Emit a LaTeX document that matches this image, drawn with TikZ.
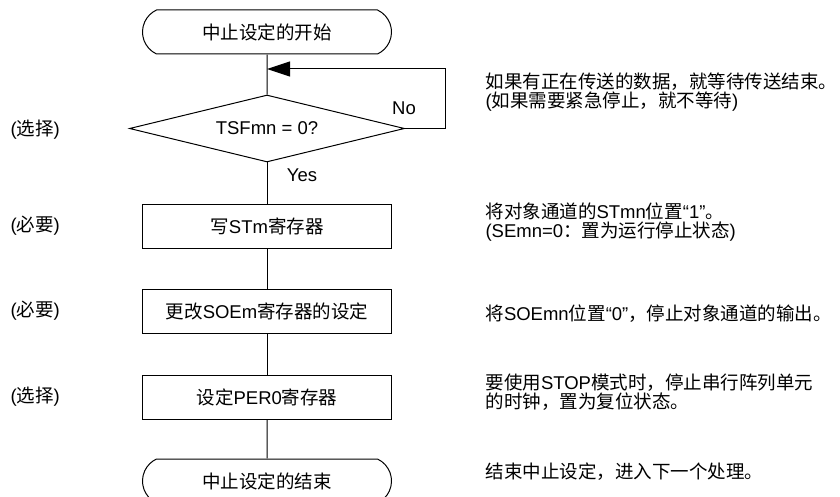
\documentclass[tikz,border=0pt]{standalone}
\usepackage{fontspec}
\setmainfont{Liberation Sans}
\newfontfamily\cjk{Noto Sans CJK SC}
\newcommand\zh[1]{{\cjk #1}}
\usepackage{tikz}
\usetikzlibrary{arrows.meta,positioning,shapes.misc,shapes.geometric}

\begin{document}
\begin{tikzpicture}[x=1pt,y=-1pt,line width=1pt,
  font=\fontsize{18.5}{19}\selectfont,
  term/.style={draw,rounded rectangle,rounded rectangle arc length=130,minimum width=249pt,minimum height=44pt,inner sep=0pt},
  proc/.style={draw,rectangle,minimum width=249pt,minimum height=44pt,inner sep=0pt},
  cond/.style={draw,diamond,aspect=4.1,minimum width=275pt,minimum height=67pt,inner sep=0pt},
  note/.style={anchor=west,align=left,inner sep=0pt}]
  \useasboundingbox (0,0) rectangle (840,497);
  % main column
  \node[term] (start) at (267,32) {\zh{中止设定的开始}};
  \node[cond] (tsf) at (267,128.5) {TSFmn = 0?};
  \node[proc] (wst) at (267,226) {\zh{写}STm\zh{寄存器}};
  \node[proc] (soe) at (267,311.5) {\zh{更改}SOEm\zh{寄存器的设定}};
  \node[proc] (per) at (267,397) {\zh{设定}PER0\zh{寄存器}};
  \node[term] (stop) at (267,481) {\zh{中止设定的结束}};
  \coordinate (join) at (267,69);
  \coordinate (back) at (445,69);
  \draw (start) -- (tsf);
  \draw (tsf) -- (wst);
  \draw (wst) -- (soe);
  \draw (soe) -- (per);
  \draw (per) -- (stop);
  \draw[-{Triangle[length=23pt,width=15pt]}] (tsf.east) -| (back) -- (join);
  \node (no) at (404,108) {No};
  \node (yes) at (302,175) {Yes};
  % left tags
  \foreach \y/\l in {130/选择, 226/必要, 311/必要, 397/选择}
    \node[anchor=west,inner sep=0pt] (tag\y) at (10,\y) {(\zh{\l})};
  % right notes
  \node[note] (n1) at (485,92.5) {\zh{如果有正在传送的数据，就等待传送结束。}\\(\zh{如果需要紧急停止，就不等待})};
  \node[note] (n2) at (485,222.5) {\zh{将对象通道的}STmn\zh{位置}“1”\zh{。}\\(SEmn=0\zh{：置为运行停止状态})};
  \node[note] (n3) at (485,314) {\zh{将}SOEmn\zh{位置}“0”\zh{，停止对象通道的输出。}};
  \node[note] (n4) at (485,392.5) {\zh{要使用}STOP\zh{模式时，停止串行阵列单元}\\\zh{的时钟，置为复位状态。}};
  \node[note] (n5) at (485,472) {\zh{结束中止设定，进入下一个处理。}};
\end{tikzpicture}
\end{document}
